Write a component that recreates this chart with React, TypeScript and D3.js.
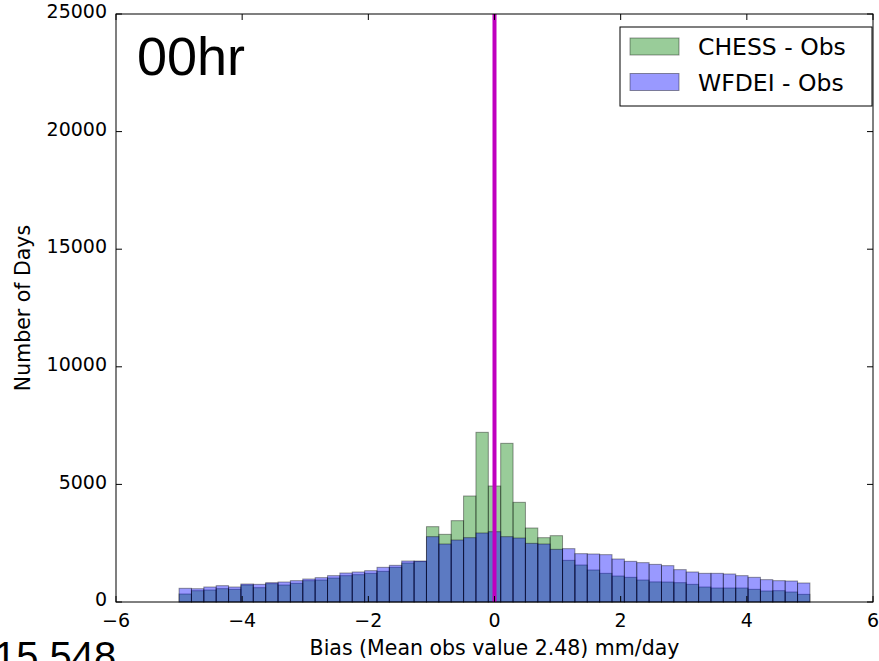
import * as d3 from 'd3';

const width = 879;
const height = 661;
const [mt, mr, mb, ml] = [14, 6, 59, 116];

// histogram bins span -5..5 (51 bins)
const binMin = -5;
const binMax = 5;

const chessCounts = [
    340, 480, 510, 567, 539, 723, 609, 780, 723, 794, 907, 935, 1020, 1120, 1162, 1219, 1304, 1474, 1658, 1720,
    3203, 2877, 3458, 4507, 7214, 4932, 6746, 4238, 3146, 2735, 2820, 1771, 1573, 1361, 1219, 1105, 1049, 935, 855,
    850, 822, 751, 638, 595, 595, 595, 539, 468, 482, 425, 326,
];
const wfdeiCounts = [
    582, 565, 638, 694, 638, 765, 751, 822, 850, 907, 978, 1035, 1120, 1233, 1276, 1332, 1474, 1559, 1743, 1743,
    2778, 2466, 2636, 2735, 2934, 2989, 2778, 2721, 2494, 2466, 2239, 2268, 2055, 2041, 2013, 1828, 1729, 1673, 1600,
    1545, 1375, 1276, 1219, 1219, 1191, 1120, 1049, 950, 907, 893, 808,
];

const seriesNames = ['CHESS - Obs', 'WFDEI - Obs'];
const seriesColors = ['#008000', '#0000ff'];
const xTicks = [-6, -4, -2, 0, 2, 4, 6];
const yTicks = [0, 5000, 10000, 15000, 20000, 25000];

const font = 'DejaVu Sans, sans-serif';

export default function App() {
    const x = d3.scaleLinear().domain([-6, 6]).range([ml, width - mr]);
    const y = d3.scaleLinear().domain([0, 25000]).range([height - mb, mt]);
    const binW = (binMax - binMin) / chessCounts.length;

    const bars = (counts: number[], color: string) =>
        counts.map((c, i) => {
            const x0 = x(binMin + i * binW);
            const x1 = x(binMin + (i + 1) * binW);
            return (
                <rect
                    key={i}
                    x={x0}
                    y={y(c)}
                    width={x1 - x0}
                    height={y(0) - y(c)}
                    fill={color}
                    fillOpacity={0.4}
                    stroke="#000"
                    strokeOpacity={0.4}
                    strokeWidth={1}
                />
            );
        });

    const fmtX = (d: number) => (d < 0 ? `\u2212${Math.abs(d)}` : `${d}`);

    return (
        <svg
            width={width}
            height={height}
            style={{ position: 'absolute', left: 0, top: 0, background: '#fff' }}
            fontFamily={font}
        >
            <g>{bars(chessCounts, seriesColors[0])}</g>
            <g>{bars(wfdeiCounts, seriesColors[1])}</g>

            {/* zero line */}
            <line x1={x(0)} x2={x(0)} y1={y(25000)} y2={y(0)} stroke="#bf00bf" strokeWidth={4} />

            {/* ticks, inward on all sides */}
            {xTicks.map((t) => (
                <g key={`x${t}`}>
                    <line x1={x(t)} x2={x(t)} y1={y(0)} y2={y(0) - 6} stroke="#000" />
                    <line x1={x(t)} x2={x(t)} y1={mt} y2={mt + 6} stroke="#000" />
                    <text x={x(t)} y={y(0) + 25} textAnchor="middle" fontSize={19}>
                        {fmtX(t)}
                    </text>
                </g>
            ))}
            {yTicks.map((t) => (
                <g key={`y${t}`}>
                    <line x1={ml} x2={ml + 6} y1={y(t)} y2={y(t)} stroke="#000" />
                    <line x1={width - mr} x2={width - mr - 6} y1={y(t)} y2={y(t)} stroke="#000" />
                    <text x={ml - 9} y={y(t)} dy="0.22em" textAnchor="end" fontSize={19}>
                        {t}
                    </text>
                </g>
            ))}

            <rect x={ml} y={mt} width={width - mr - ml} height={y(0) - mt} fill="none" stroke="#000" strokeWidth={1} />

            <text x={(ml + width - mr) / 2} y={655} textAnchor="middle" fontSize={20.5}>
                Bias (Mean obs value 2.48) mm/day
            </text>
            <text transform={`translate(30, ${(mt + y(0)) / 2}) rotate(-90)`} textAnchor="middle" fontSize={20.5}>
                Number of Days
            </text>

            <text x={137} y={75} fontSize={54} fontFamily="Liberation Sans, Arial, sans-serif">
                00hr
            </text>
            <text x={-6} y={670} fontSize={40} fontFamily="Liberation Sans, Arial, sans-serif">
                15.548
            </text>

            {/* legend */}
            <g>
                <rect x={620} y={27} width={252} height={79} fill="#fff" stroke="#000" strokeWidth={1} />
                {seriesNames.map((name, i) => (
                    <g key={name}>
                        <rect
                            x={630}
                            y={38 + i * 35.5}
                            width={49}
                            height={17}
                            fill={seriesColors[i]}
                            fillOpacity={0.4}
                            stroke="#000"
                            strokeOpacity={0.4}
                        />
                        <text x={698} y={47 + i * 35.5} dy="0.36em" fontSize={23.5}>
                            {name}
                        </text>
                    </g>
                ))}
            </g>
        </svg>
    );
}
